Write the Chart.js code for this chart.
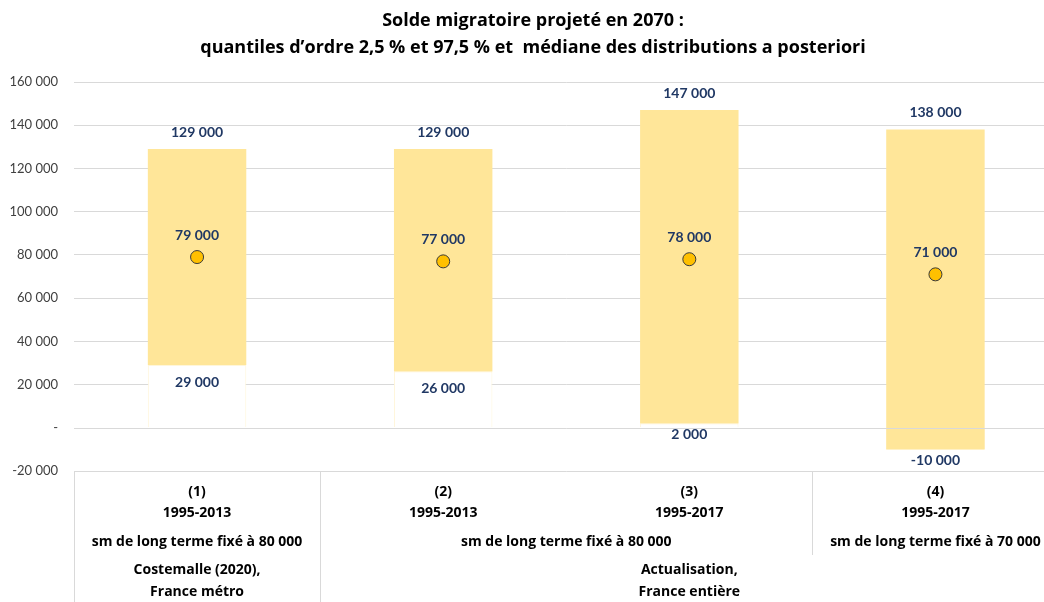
<!DOCTYPE html>
<html>
<head>
<meta charset="utf-8">
<script src="https://cdn.jsdelivr.net/npm/chart.js@4.4.1/dist/chart.umd.min.js"></script>
<style>
  html, body { margin: 0; padding: 0; background: #fff; overflow: hidden; }
  .chart-box { position: relative; width: 1066px; height: 602px; }
</style>
</head>
<body>
<div class="chart-box"><canvas id="chart"></canvas></div>
<script>
const categories = ['(1)', '(2)', '(3)', '(4)'];
const periods = ['1995-2013', '1995-2013', '1995-2017', '1995-2017'];
const q025 = [29000, 26000, 2000, -10000];
const q975 = [129000, 129000, 147000, 138000];
const median = [79000, 77000, 78000, 71000];
// second and third rows of the category table (merged cells)
const rowHypothesis = [
  { text: ['sm de long terme fixé à 80 000'], from: 0, to: 0 },
  { text: ['sm de long terme fixé à 80 000'], from: 1, to: 2 },
  { text: ['sm de long terme fixé à 70 000'], from: 3, to: 3 }
];
const rowSource = [
  { text: ['Costemalle (2020),', 'France métro'], from: 0, to: 0 },
  { text: ['Actualisation,', 'France entière'], from: 1, to: 3 }
];

const FONT = 'Lato, "Open Sans", sans-serif';
const TABLE_FONT = '"Open Sans", Lato, sans-serif';
const labelBlue = '#203864';
const lineGrey = '#d9d9d9';

const fmt = v => {
  if (v === 0) return '-';
  const s = String(Math.abs(v)).replace(/\B(?=(\d{3})+(?!\d))/g, ' ');
  return (v < 0 ? '-' : '') + s;
};

const labelsPlugin = {
  id: 'valueLabels',
  afterDatasetsDraw(chart) {
    const { ctx, chartArea, scales: { x, y } } = chart;
    // zero axis line is drawn over the bars
    ctx.save();
    ctx.strokeStyle = lineGrey;
    ctx.lineWidth = 1;
    const y0 = Math.round(y.getPixelForValue(0)) + 0.5;
    ctx.beginPath();
    ctx.moveTo(chartArea.left, y0);
    ctx.lineTo(chartArea.right, y0);
    ctx.stroke();

    ctx.font = 'bold 14px ' + FONT;
    ctx.fillStyle = labelBlue;
    ctx.textAlign = 'center';
    ctx.textBaseline = 'middle';
    categories.forEach((c, i) => {
      const cx = x.getPixelForValue(i);
      ctx.fillText(fmt(q975[i]), cx, y.getPixelForValue(q975[i]) - 17);
      const off = q025[i] > 10000 ? 17 : 11;
      ctx.fillText(fmt(q025[i]), cx, y.getPixelForValue(q025[i]) + off);
      ctx.fillText(fmt(median[i]), cx, y.getPixelForValue(median[i]) - 22);
    });
    ctx.restore();
  }
};

const tablePlugin = {
  id: 'categoryTable',
  afterDraw(chart) {
    const { ctx, chartArea, scales: { x } } = chart;
    const n = categories.length;
    const w = (x.right - x.left) / n;
    const top = chartArea.bottom;
    const bottom = chart.height;
    ctx.save();
    ctx.strokeStyle = lineGrey;
    ctx.lineWidth = 1;
    const vline = (px, y2) => {
      const xx = Math.round(px) + 0.5;
      ctx.beginPath();
      ctx.moveTo(xx, top);
      ctx.lineTo(xx, y2);
      ctx.stroke();
    };
    vline(x.left, bottom);
    vline(x.left + w, bottom);
    vline(x.left + 3 * w, top + 84);

    ctx.font = 'bold 14px ' + TABLE_FONT;
    ctx.fillStyle = '#000';
    ctx.textAlign = 'center';
    ctx.textBaseline = 'middle';
    categories.forEach((c, i) => {
      const cx = x.left + w * (i + 0.5);
      ctx.fillText(c, cx, top + 21);
      ctx.fillText(periods[i], cx, top + 42);
    });
    rowHypothesis.forEach(g => {
      const cx = x.left + w * (g.from + g.to + 1) / 2;
      ctx.fillText(g.text[0], cx, top + 71);
    });
    rowSource.forEach(g => {
      const cx = x.left + w * (g.from + g.to + 1) / 2;
      g.text.forEach((t, k) => ctx.fillText(t, cx, top + 99 + k * 22));
    });
    ctx.restore();
  }
};

new Chart(document.getElementById('chart'), {
  data: {
    labels: categories,
    datasets: [
      {
        type: 'line',
        data: median,
        showLine: false,
        pointRadius: 6.5,
        pointBackgroundColor: '#FFC000',
        pointBorderColor: '#3a3a3a',
        pointBorderWidth: 1
      },
      {
        type: 'bar',
        data: q025.map((lo, i) => [lo, q975[i]]),
        backgroundColor: '#FFE699',
        borderWidth: 0,
        grouped: false,
        barPercentage: 0.4,
        categoryPercentage: 1
      },
      {
        type: 'bar',
        data: q025.map(lo => [Math.min(0, lo), Math.max(0, lo)]),
        backgroundColor: '#ffffff',
        borderColor: '#FFF6DA',
        borderWidth: 1,
        grouped: false,
        barPercentage: 0.4,
        categoryPercentage: 1
      }
    ]
  },
  options: {
    responsive: true,
    maintainAspectRatio: false,
    animation: false,
    layout: { padding: { left: 0, right: 0, top: 0, bottom: 0 } },
    plugins: {
      legend: { display: false },
      tooltip: { enabled: false },
      title: {
        display: true,
        text: ['Solde migratoire projeté en 2070 :', 'quantiles d’ordre 2,5 % et 97,5 % et  médiane des distributions a posteriori'],
        color: '#000',
        font: { family: TABLE_FONT, size: 18, weight: 'bold', lineHeight: 1.5 },
        padding: { top: 7, bottom: 21 }
      }
    },
    scales: {
      x: {
        offset: true,
        grid: { display: false },
        border: { display: false },
        ticks: { display: false },
        afterFit: s => { s.height = 131; }
      },
      y: {
        min: -20000,
        max: 160000,
        grid: {
          color: c => (c.tick && c.tick.value === 0 ? 'rgba(0,0,0,0)' : lineGrey),
          drawTicks: false
        },
        border: { display: false },
        ticks: {
          stepSize: 20000,
          padding: 16,
          color: '#404040',
          font: { family: FONT, size: 13 },
          callback: v => fmt(v)
        },
        afterFit: s => { s.width = 74; }
      }
    }
  },
  plugins: [labelsPlugin, tablePlugin]
});
</script>
</body>
</html>
